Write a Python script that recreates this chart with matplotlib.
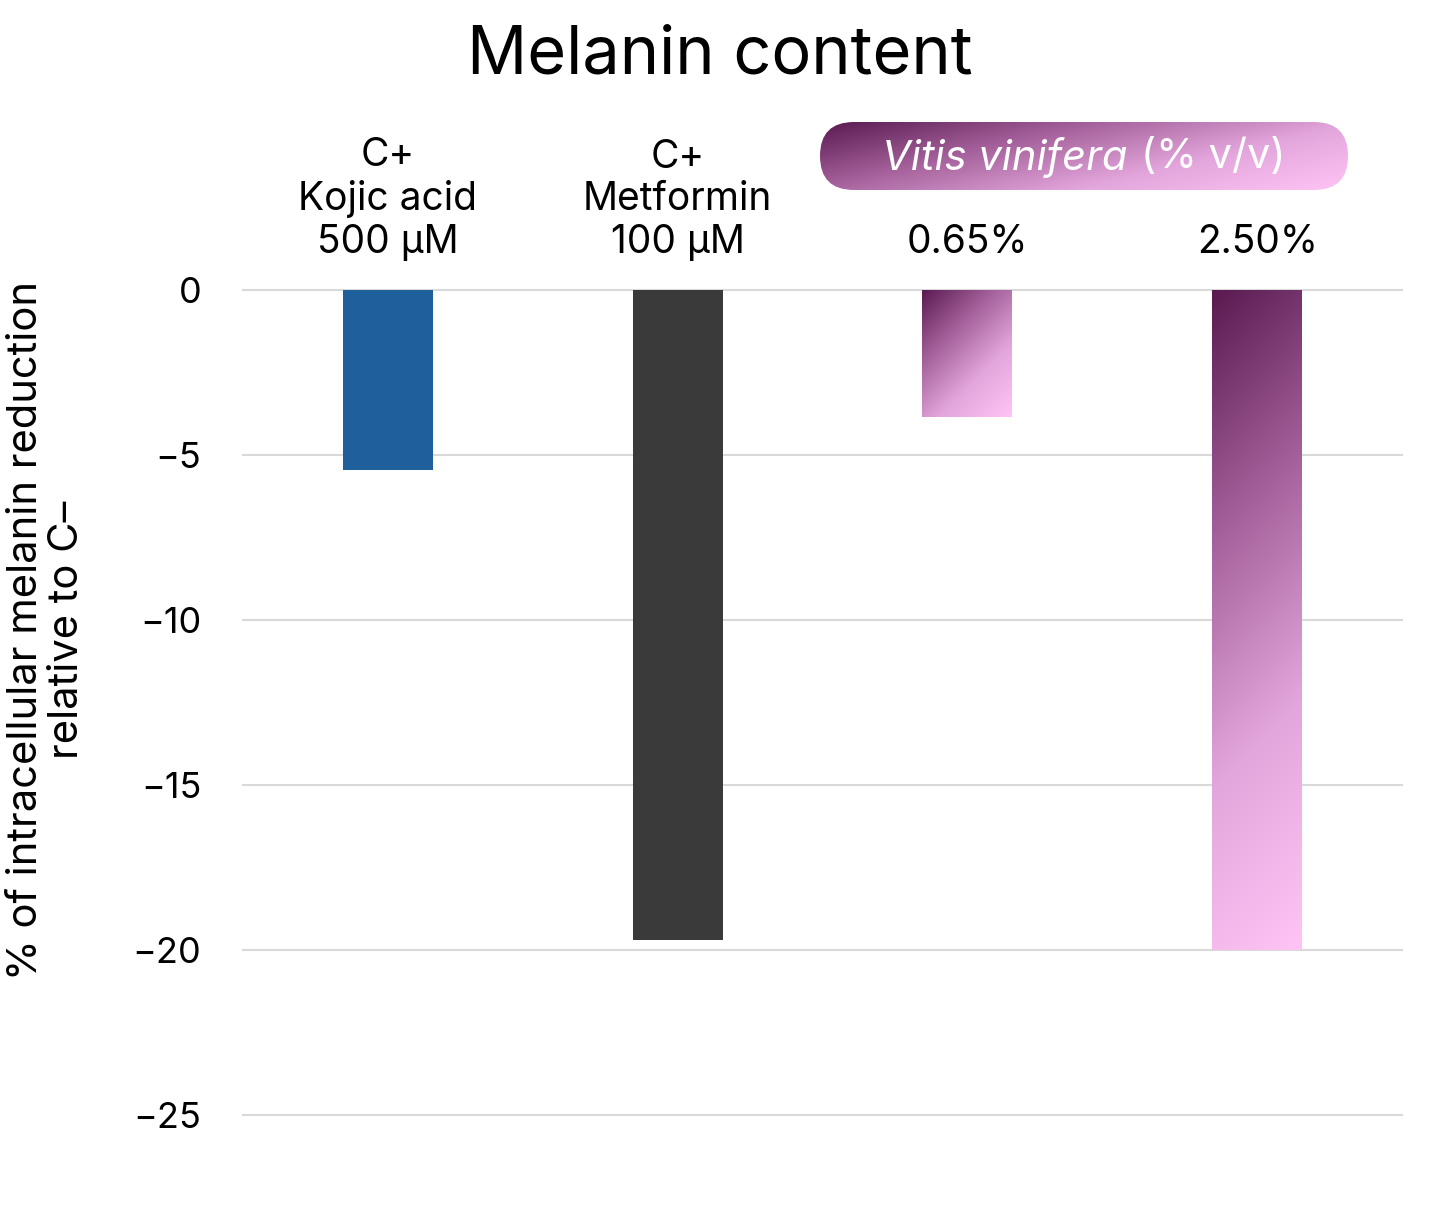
import numpy as np
import matplotlib
matplotlib.use("Agg")
import matplotlib.pyplot as plt
from matplotlib.colors import LinearSegmentedColormap
from matplotlib.patches import FancyBboxPatch
import matplotlib.transforms as mtransforms

plt.rcParams['font.family'] = ['Inter', 'DejaVu Sans']

# data
categories = ["C+\nKojic acid\n500 µM", "C+\nMetformin\n100 µM", "0.65%", "2.50%"]
values = [-5.45, -19.7, -3.85, -20.0]
bar_colors = ["#1f5f9b", "#3a3a3a", None, None]   # None -> gradient
yticks = [0, -5, -10, -15, -20, -25]

grad = LinearSegmentedColormap.from_list("vitis", ["#5a1a50", "#a4609a", "#e3a6dc", "#ffc4f5"])


def diag_gradient(w_px, h_px, n=300):
    # 135deg style gradient in pixel space: top-left dark -> bottom-right light
    xs = np.linspace(0, w_px, n)
    ys = np.linspace(0, h_px, n)
    X, Y = np.meshgrid(xs, ys)
    return (X + Y) / (w_px + h_px)


fig = plt.figure(figsize=(14.4, 12.09), dpi=100)
ax = fig.add_axes([243 / 1440, 1 - 1115 / 1209, 1159 / 1440, 825 / 1209])

x = np.arange(len(categories))
width = 0.31
ax.set_xlim(-0.5, len(categories) - 0.5)
ax.set_ylim(-25, 0)
bars = ax.bar(x, values, width=width, zorder=3)
for bar, c in zip(bars, bar_colors):
    if c is not None:
        bar.set_facecolor(c)
    else:
        bar.set_facecolor("none")
        x0, y0 = bar.get_x(), bar.get_y()
        w, h = bar.get_width(), bar.get_height()
        p0 = ax.transData.transform((x0, y0))
        p1 = ax.transData.transform((x0 + w, y0 + h))
        w_px, h_px = abs(p1[0] - p0[0]), abs(p1[1] - p0[1])
        im = ax.imshow(diag_gradient(w_px, h_px), cmap=grad, origin="upper", aspect="auto",
                       extent=[x0, x0 + w, min(y0, y0 + h), max(y0, y0 + h)],
                       zorder=3, interpolation="bilinear", vmin=0, vmax=1)
        im.set_clip_path(bar)

ax.set_xlim(-0.5, len(categories) - 0.5)
ax.set_ylim(-25, 0)
ax.set_yticks(yticks)
ax.set_yticklabels([f"{t}".replace("-", "−") for t in yticks], fontsize=26)
ax.tick_params(axis="y", length=0, pad=30)
ax.set_xticks([])
for s in ax.spines.values():
    s.set_visible(False)
ax.yaxis.grid(True, color="#d9d9d9", linewidth=1.5, zorder=0)
ax.set_axisbelow(True)
for gl in ax.yaxis.get_gridlines():
    gl.set_clip_on(False)

# category labels above the plot
trans = mtransforms.blended_transform_factory(ax.transData, ax.transAxes)
for xi, lab in zip(x, categories):
    ax.text(xi, 1.035, lab, transform=trans, ha="center", va="bottom",
            fontsize=28, linespacing=1.2)

# title
fig.text(0.5, 1 - 56 / 1209, "Melanin content", ha="center", va="center", fontsize=48)

# y label
fig.text(47 / 1440, 1 - 630 / 1209,
         "% of intracellular melanin reduction\nrelative to C–",
         rotation=90, ha="center", va="center", fontsize=30, linespacing=1.1)

# gradient pill for Vitis vinifera
pill_w, pill_h = 528, 68
pax = fig.add_axes([820 / 1440, 1 - 190 / 1209, pill_w / 1440, pill_h / 1209])
pax.set_xlim(0, pill_w)
pax.set_ylim(0, pill_h)
pax.axis("off")
u = np.linspace(0, 1, 300)
U, V = np.meshgrid(u, u)
pill_grad = 0.65 * U + 0.35 * V
pim = pax.imshow(pill_grad, cmap=grad, origin="upper", aspect="auto",
                 extent=[0, pill_w, 0, pill_h], interpolation="bilinear", vmin=0, vmax=1)
pill = FancyBboxPatch((0, 0), pill_w, pill_h,
                      boxstyle=f"round,pad=0,rounding_size={pill_h / 2}",
                      facecolor="none", edgecolor="none")
pax.add_patch(pill)
pim.set_clip_path(pill)
pax.text(308, pill_h / 2 - 1, "Vitis vinifera", ha="right", va="center",
         fontsize=30, style="italic", color="white")
pax.text(321, pill_h / 2 - 1, "(% v/v)", ha="left", va="center",
         fontsize=30, color="white")

fig.savefig("out.png", dpi=100, facecolor="white")
